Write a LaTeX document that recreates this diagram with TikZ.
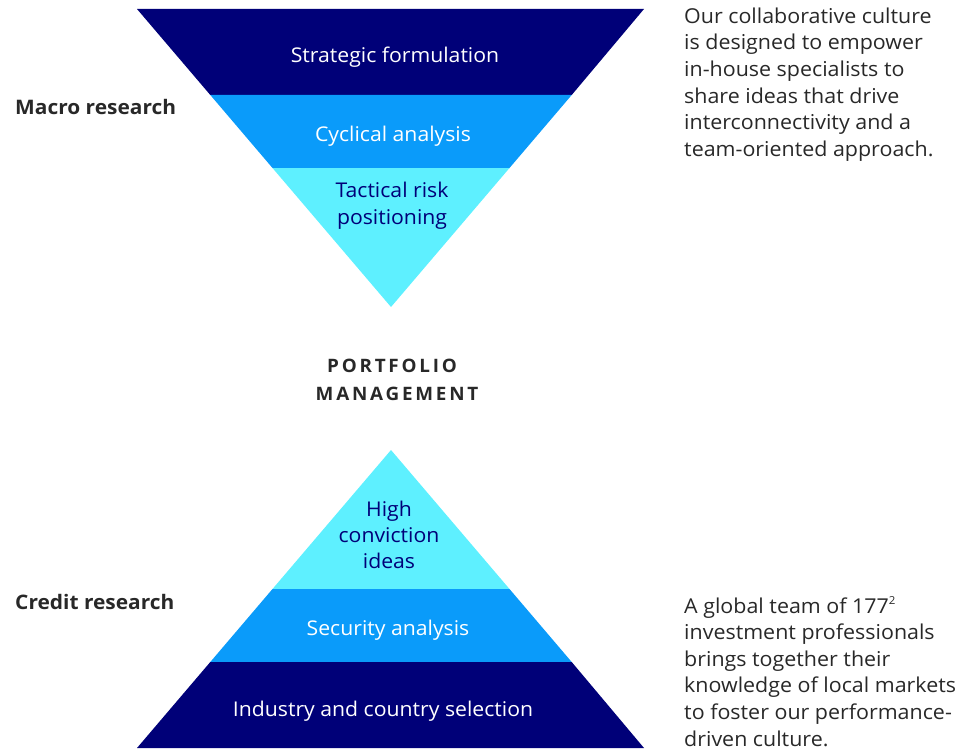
\documentclass[tikz,border=0pt]{standalone}
\usepackage{fontspec}
\setmainfont{Open Sans}[FakeStretch=1.045]
\newfontfamily\spacedbold{Open Sans}[LetterSpace=15,FakeStretch=1.02]
\definecolor{navy}{RGB}{0,0,120}
\definecolor{midblue}{RGB}{10,155,250}
\definecolor{lightcyan}{RGB}{94,240,255}
\definecolor{bodytext}{RGB}{40,40,40}
\newcommand{\smallsup}[1]{\raisebox{0.42em}{\fontsize{11}{11}\selectfont #1}}
\begin{document}
\begin{tikzpicture}[x=1pt,y=-1pt,
  lbl/.style={inner sep=0pt, anchor=base, font=\fontsize{20.3}{26.6}\selectfont},
  whitelbl/.style={lbl, text=white},
  navylbl/.style={lbl, text=navy},
  sidelbl/.style={inner sep=0pt, anchor=base west, text=bodytext, font=\fontsize{20}{24}\selectfont\bfseries},
  bodytxt/.style={inner sep=0pt, anchor=base west, text=bodytext, font=\fontsize{20.5}{26.6}\selectfont},
  pmlbl/.style={inner sep=0pt, anchor=base, text=bodytext, font=\fontsize{18.5}{30}\selectfont\spacedbold\bfseries}
  ]
\useasboundingbox (0,0) rectangle (974,749);
% top (inverted) triangle
\coordinate (tA) at (137,9);
\coordinate (tB) at (644,9);
\coordinate (tC) at (391,307);
\coordinate (t1L) at (210.3,95);
\coordinate (t1R) at (571.7,95);
\coordinate (t2L) at (272.5,168);
\coordinate (t2R) at (509.5,168);
\fill[navy] (tA) -- (tB) -- (t1R) -- (t1L) -- cycle;
\fill[midblue] (t1L) -- (t1R) -- (t2R) -- (t2L) -- cycle;
\fill[lightcyan] (t2L) -- (t2R) -- (tC) -- cycle;
% bottom triangle
\coordinate (bA) at (137,748);
\coordinate (bB) at (644,748);
\coordinate (bC) at (391,450);
\coordinate (b1L) at (272.5,589);
\coordinate (b1R) at (509.5,589);
\coordinate (b2L) at (210.3,662);
\coordinate (b2R) at (571.7,662);
\fill[lightcyan] (bC) -- (b1R) -- (b1L) -- cycle;
\fill[midblue] (b1L) -- (b1R) -- (b2R) -- (b2L) -- cycle;
\fill[navy] (b2L) -- (b2R) -- (bB) -- (bA) -- cycle;
% labels in top triangle
\node[whitelbl] (strat) at (395,62.7) {Strategic formulation};
\node[whitelbl] (cycl) at (393,141.7) {Cyclical analysis};
\node[navylbl] (tact1) at (392,197.3) {Tactical risk};
\node[navylbl] (tact2) at (392,224) {positioning};
% labels in bottom triangle
\node[navylbl] (high1) at (389,516) {High};
\node[navylbl] (high2) at (389,542) {conviction};
\node[navylbl] (high3) at (389,568) {ideas};
\node[whitelbl] (sec) at (388,635) {Security analysis};
\node[whitelbl] (ind) at (383,716) {Industry and country selection};
% side labels
\node[sidelbl] (macro) at (15,114.3) {Macro research};
\node[sidelbl] (credit) at (15,609.5) {Credit research};
% centre label
\node[pmlbl] (pm1) at (392,372) {PORTFOLIO};
\node[pmlbl] (pm2) at (397,400.5) {MANAGEMENT};
% right texts
\node[bodytxt] (culture) at (684,23.3) {\begin{tabular}[t]{@{}l@{}}Our collaborative culture\\ is designed to empower\\ in-house specialists to\\ share ideas that drive\\ interconnectivity and a\\ team-oriented approach.\end{tabular}};
\node[bodytxt] (team) at (684,613) {\begin{tabular}[t]{@{}l@{}}A global team of 177\smallsup{2}\\ investment professionals\\ brings together their\\ knowledge of local markets\\ to foster our performance-\\ driven culture.\end{tabular}};
\end{tikzpicture}
\end{document}
